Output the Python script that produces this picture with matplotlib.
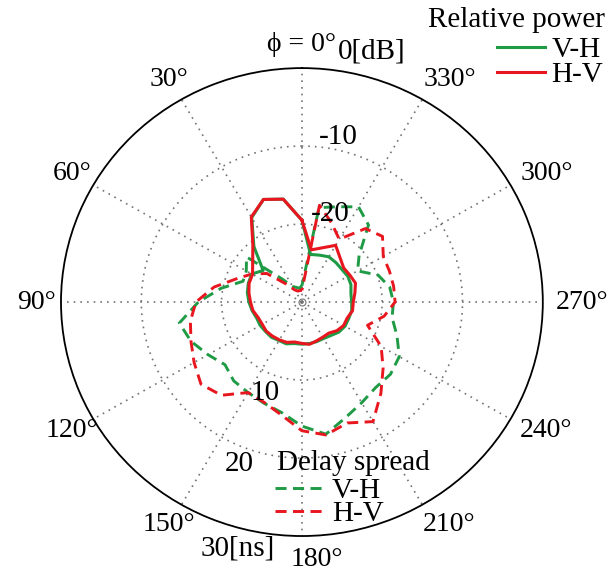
import numpy as np
import matplotlib
matplotlib.use("Agg")
import matplotlib.pyplot as plt
from matplotlib.transforms import offset_copy

plt.rcParams["font.family"] = ["Liberation Serif", "DejaVu Serif"]

# azimuth angles of the measurement (deg), counter-clockwise from phi = 0
angles_deg = list(range(0, 360, 10))

# relative power [dB]
power_vh = [-19.5, -16.6, -16.0, -17.5, -20.7, -23.7, -22.8, -22.9, -23.1, -23.4,
            -23.7, -24.0, -24.0, -24.1, -24.1, -24.3, -24.3, -24.6, -24.6, -24.6,
            -24.6, -24.6, -24.4, -24.0, -23.8, -23.8, -23.7, -23.8, -23.8, -23.5,
            -23.4, -23.5, -23.4, -23.3, -23.6, -23.8]
power_hv = [-19.5, -16.6, -16.0, -17.4, -20.5, -22.0, -22.9, -23.0, -23.3, -23.6,
            -23.8, -24.2, -24.3, -24.2, -24.3, -24.4, -24.5, -24.8, -24.7, -24.5,
            -24.7, -24.8, -24.8, -24.3, -24.0, -24.0, -23.6, -23.6, -23.3, -22.9,
            -23.1, -23.2, -22.6, -21.6, -22.6, -23.2]

# delay spread [ns]
delay_vh = [2.1, 1.8, 2.0, 2.3, 3.9, 9.0, 8.0, 7.8, 10.2, 12.9,
            15.5, 14.7, 13.5, 12.5, 13.2, 13.4, 13.8, 14.4, 15.9, 17.2,
            15.8, 14.9, 14.3, 14.4, 14.0, 12.6, 11.4, 11.4, 11.1, 10.1,
            8.0, 9.3, 12.9, 14.1, 13.0, 12.3]
delay_hv = [1.5, 1.5, 1.5, 1.8, 3.0, 5.7, 7.2, 8.7, 11.1, 13.2,
            14.1, 14.7, 15.5, 16.4, 15.6, 13.4, 13.7, 14.7, 16.5, 17.3,
            16.5, 17.7, 15.3, 13.2, 11.4, 8.7, 10.4, 11.6, 11.6, 11.6,
            11.7, 13.1, 12.3, 9.3, 10.8, 12.6]

theta_ticks = list(range(0, 360, 30))
theta_labels = ["\u03d5 = 0°"] + [f"{a}°" for a in theta_ticks[1:]]

# radial scale labels: text, angle of the label (deg), radius of the label
power_labels = ["-20", "-10", "0[dB]"]
power_label_ang = [342.7, 348, 344.8]
power_label_r = [-18.2, -8.3, 3.3]
delay_labels = ["10", "20", "30[ns]"]
delay_label_ang = [158.3, 159.5, 165.8]
delay_label_r = [12.5, 22.15, 32.6]

GREEN = "#1f9a45"
RED = "#e8161e"
FS = 21


def closed(values):
    return np.append(values, values[0])


theta = closed(np.deg2rad(angles_deg))

fig = plt.figure(figsize=(6.13, 5.77), dpi=100)
rect = [0.0995, 0.071, 0.786, 0.811]
ax_d = fig.add_axes(rect, projection="polar")
ax_p = fig.add_axes(rect, projection="polar", label="power")

for ax in (ax_d, ax_p):
    ax.set_theta_zero_location("N")
    ax.set_theta_direction(1)
    ax.set_aspect("auto")

# delay axes carries the grid and the angle labels
ax_d.set_rlim(0, 30)
ax_d.set_rgrids([10, 20], labels=["", ""])
ax_d.set_thetagrids(theta_ticks, [""] * len(theta_ticks))
ax_d.grid(True, linestyle=(0, (1, 3)), color="0.45", linewidth=1.2)
ax_d.spines["polar"].set_color("black")
ax_d.spines["polar"].set_linewidth(1.3)

ax_p.set_rlim(-30, 0)
ax_p.patch.set_visible(False)
ax_p.grid(False)
ax_p.set_xticks([])
ax_p.set_yticks([])
ax_p.spines["polar"].set_visible(False)

dash = (0, (3.8, 2.2))
l_dvh, = ax_d.plot(theta, closed(delay_vh), color=GREEN, lw=2.1, linestyle=dash)
l_dhv, = ax_d.plot(theta, closed(delay_hv), color=RED, lw=2.1, linestyle=dash)
l_pvh, = ax_p.plot(theta, closed(power_vh), color=GREEN, lw=2.2)
l_phv, = ax_p.plot(theta, closed(power_hv), color=RED, lw=2.2)

# small marker at the origin
ax_d.plot([0], [0], marker="o", ms=5, mfc="none", mec="0.45", mew=0.8)

# angle labels, the ones on the right half sit a bit further out
for ang, lab in zip(theta_ticks, theta_labels):
    shift = 15 if ang >= 180 else 0
    tr = offset_copy(ax_d.transData, fig=fig, x=shift, y=0, units="dots")
    ax_d.text(np.deg2rad(ang), 33, lab, fontsize=20, ha="center", va="center",
              transform=tr, clip_on=False)

for lab, ang, r in zip(power_labels, power_label_ang, power_label_r):
    ax_p.text(np.deg2rad(ang), r, lab, fontsize=FS, ha="center", va="center")
for lab, ang, r in zip(delay_labels, delay_label_ang, delay_label_r):
    ax_d.text(np.deg2rad(ang), r, lab, fontsize=FS, ha="center", va="center",
              clip_on=False)

fig.text(605 / 613, 1 - 27 / 577, "Relative power", fontsize=FS,
         ha="right", va="baseline")
fig.legend(handles=[l_pvh, l_phv], labels=["V-H", "H-V"],
           loc="upper right", bbox_to_anchor=(603 / 613, 1 - 37 / 577),
           frameon=False, fontsize=FS, handlelength=1.65,
           handletextpad=0.2, labelspacing=-0.05, borderpad=0, borderaxespad=0)

fig.text(277 / 613, 1 - 470 / 577, "Delay spread", fontsize=FS,
         ha="left", va="baseline")
fig.legend(handles=[l_dvh, l_dhv], labels=["V-H", "H-V"],
           loc="upper left", bbox_to_anchor=(275 / 613, 1 - 478 / 577),
           frameon=False, fontsize=FS, handlelength=1.65,
           handletextpad=0.3, labelspacing=-0.12, borderpad=0, borderaxespad=0)

fig.savefig("out.png", dpi=100)
